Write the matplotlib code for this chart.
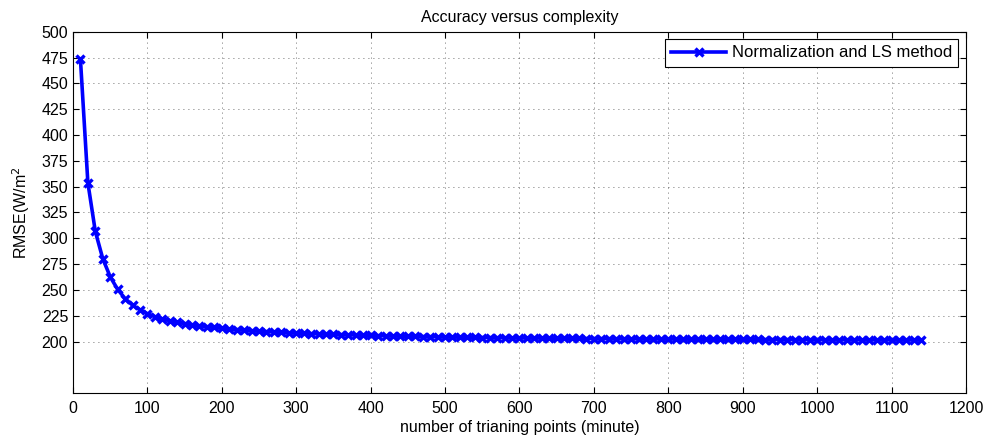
import matplotlib
matplotlib.use("Agg")
import matplotlib.pyplot as plt
import numpy as np

plt.rcParams['font.family'] = ['Liberation Sans', 'DejaVu Sans']

# number of training points (minute)
n_points = list(range(10, 1150, 10))

# RMSE
rmse = [473.4, 353.8, 306.7, 280.4, 262.8, 250.6, 241.7, 235.3, 230.8,
        227.0, 224.2, 222.0, 220.3, 218.8, 217.5, 216.4, 215.4, 214.5, 213.7,
        213.0, 212.3, 211.7, 211.1, 210.6, 210.1, 209.7, 209.3, 208.9, 208.6,
        208.3, 208.0, 207.7, 207.5, 207.2, 207.0, 206.8, 206.6, 206.4, 206.2,
        206.0, 205.8, 205.6, 205.5, 205.3, 205.2, 205.0, 204.9, 204.8, 204.7,
        204.5, 204.4, 204.3, 204.2, 204.1, 204.0, 203.9, 203.8, 203.8, 203.7,
        203.6, 203.5, 203.5, 203.4, 203.3, 203.3, 203.2, 203.1, 203.1, 203.0,
        203.0, 202.9, 202.9, 202.8, 202.8, 202.7, 202.7, 202.6, 202.6, 202.5,
        202.5, 202.5, 202.4, 202.4, 202.3, 202.3, 202.3, 202.2, 202.2, 202.2,
        202.1, 202.1, 202.1, 202.0, 202.0, 202.0, 202.0, 201.9, 201.9, 201.9,
        201.9, 201.8, 201.8, 201.8, 201.8, 201.8, 201.7, 201.7, 201.7, 201.7,
        201.7, 201.6, 201.6, 201.6, 201.6]

x_ticks = np.arange(0, 1201, 100)
y_ticks = np.arange(200, 501, 25)

fig = plt.figure(figsize=(9.89, 4.44), dpi=100)
ax = fig.add_axes([0.0738, 0.1142, 0.9029, 0.8144])

ax.plot(n_points, rmse, color=(0, 0, 1), linewidth=2.6, marker='x',
        markersize=5.5, markeredgewidth=2.4, label='Normalization and LS method')

ax.set_xlim(0, 1200)
ax.set_ylim(150, 500)
ax.set_xticks(x_ticks)
ax.set_yticks(y_ticks)
ax.tick_params(direction='in', top=True, right=True, length=4.5, width=0.8,
               labelsize=11.5)
ax.tick_params(axis='x', pad=5.5)
ax.tick_params(axis='y', pad=3.5)
ax.grid(True, color='black', linestyle=(0, (1, 5)), linewidth=0.6, alpha=0.75)
for s in ax.spines.values():
    s.set_linewidth(0.8)

ax.set_title('Accuracy versus complexity', fontsize=11.5, pad=7)
ax.set_xlabel('number of trianing points (minute)', fontsize=11.5, labelpad=3)
ax.set_ylabel('RMSE(W/m$^2$', fontsize=11.5, labelpad=7)

leg = ax.legend(loc='upper right', fontsize=12, numpoints=1, fancybox=False,
                framealpha=1, edgecolor='black', handlelength=3.3,
                handletextpad=0.35, borderpad=0.37, borderaxespad=0.45)
leg.get_frame().set_linewidth(0.8)

fig.savefig('out.png', dpi=100)
